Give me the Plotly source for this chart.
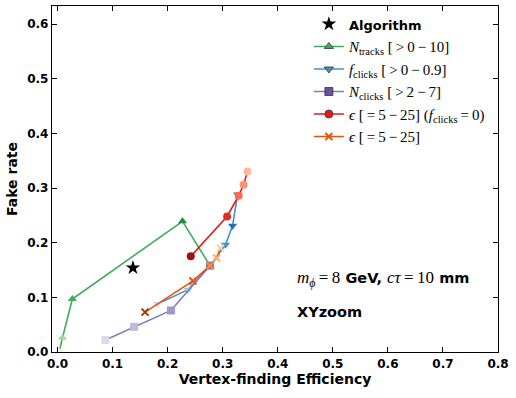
"""Fake rate vs vertex-finding efficiency, XYzoom"""

import plotly.graph_objects as go

# algorithm working point
algo_eff = [0.137]
algo_fake = [0.154]

# N_tracks [>0-10]
ntracks_eff = [0.003, 0.009, 0.027, 0.227, 0.277]
ntracks_fake = [0.000, 0.026, 0.097, 0.239, 0.158]

# f_clicks [>0-0.9]
fclicks_eff = [0.182, 0.237, 0.277, 0.305, 0.318, 0.327]
fclicks_fake = [0.088, 0.114, 0.158, 0.196, 0.231, 0.288]

# N_clicks [>2-7]
nclicks_eff = [0.087, 0.139, 0.206, 0.277]
nclicks_fake = [0.022, 0.046, 0.076, 0.158]

# epsilon [=5-25], f_clicks = 0
eps0_eff = [0.242, 0.308, 0.329, 0.338, 0.345]
eps0_fake = [0.175, 0.248, 0.286, 0.306, 0.330]

# epsilon [=5-25]
eps_eff = [0.159, 0.246, 0.277, 0.289, 0.296]
eps_fake = [0.073, 0.130, 0.158, 0.172, 0.190]

MATH = "font-family:'Liberation Serif';font-weight:normal"
SANS = "font-family:'DejaVu Sans';font-weight:bold;font-size:13px"
T = "\u2009"  # thin space, like mathtext around operators


def m(s, size=None):
    style = MATH + (f";font-size:{size}px" if size else "")
    return f"<span style=\"{style}\">{s}</span>"


series = [
    dict(name=m(f"<i>N</i><sub>tracks</sub> [{T}&gt;{T}0{T}−{T}10]"), x=ntracks_eff, y=ntracks_fake,
         line="#41ab5d", symbol="triangle-up", size=8,
         colors=["#f7fcf5", "#a1d99b", "#41ab5d", "#238b45", "#006d2c"], legend="#41ab5d"),
    dict(name=m(f"<i>f</i><sub>clicks</sub> [{T}&gt;{T}0{T}−{T}0.9]"), x=fclicks_eff, y=fclicks_fake,
         line="#4292c6", symbol="triangle-down", size=8,
         colors=["#c6dbef", "#9ecae1", "#6baed6", "#4292c6", "#2171b5", "#3182bd"], legend="#4292c6"),
    dict(name=m(f"<i>N</i><sub>clicks</sub> [{T}&gt;{T}2{T}−{T}7]"), x=nclicks_eff, y=nclicks_fake,
         line="#807dba", symbol="square", size=8,
         colors=["#dadaeb", "#bcbddc", "#9e9ac8", "#807dba"], legend="#6a51a3"),
    dict(name=m(f"<i>ϵ</i> [{T}={T}5{T}−{T}25] (<i>f</i><sub>clicks</sub>{T}={T}0)"), x=eps0_eff, y=eps0_fake,
         line="#e31a1c", symbol="circle", size=8,
         colors=["#a50f15", "#de2d26", "#fb6a4a", "#fc9272", "#fcbba1"], legend="#e31a1c"),
    dict(name=m(f"<i>ϵ</i> [{T}={T}5{T}−{T}25]"), x=eps_eff, y=eps_fake,
         line="#e6550d", symbol="x-thin", size=7,
         colors=["#a63603", "#e6550d", "#fd8d3c", "#fdae6b", "#fdd0a2"], legend="#e6550d"),
]

fig = go.Figure()

fig.add_trace(go.Scatter(
    x=algo_eff, y=algo_fake, mode="markers", showlegend=False,
    marker=dict(symbol="star", size=11, color="black"),
))
fig.add_trace(go.Scatter(
    x=[None], y=[None], mode="markers", name=f"<span style=\"{SANS}\">Algorithm</span>",
    marker=dict(symbol="star", size=11, color="black"),
))

for s in series:
    xthin = s["symbol"] == "x-thin"
    fig.add_trace(go.Scatter(
        x=s["x"], y=s["y"], mode="lines+markers", showlegend=False,
        line=dict(color=s["line"], width=1.6),
        marker=dict(symbol=s["symbol"], size=s["size"], color=s["colors"],
                    line=dict(width=2 if xthin else 0, color=s["colors"])),
    ))
    fig.add_trace(go.Scatter(
        x=[None], y=[None], mode="lines+markers", name=s["name"],
        line=dict(color=s["line"], width=1.6),
        marker=dict(symbol=s["symbol"], size=s["size"], color=s["legend"],
                    line=dict(width=2 if xthin else 0.8,
                              color=s["legend"] if xthin else "#333333")),
    ))

fig.add_annotation(
    x=0.431, y=0.134, xref="x", yref="y", xanchor="left", yanchor="middle", showarrow=False,
    text=m(f"<i>m</i><sub><i>ϕ</i></sub>{T}={T}8", 17) + " GeV, " + m(f"<i>cτ</i>{T}={T}10", 17) + " mm",
    font=dict(family="DejaVu Sans", size=14.5, color="black", weight="bold"),
)
fig.add_annotation(
    x=0.431, y=0.074, xref="x", yref="y", xanchor="left", yanchor="middle", showarrow=False,
    text="XYzoom",
    font=dict(family="DejaVu Sans", size=14.5, color="black", weight="bold"),
)

axis = dict(
    showgrid=False, zeroline=False, showline=True, linecolor="black", linewidth=1.3,
    mirror="allticks", ticks="inside", ticklen=5, tickwidth=1, tickcolor="black",
    tickfont=dict(family="DejaVu Sans", size=12, color="black", weight="bold"),
)

fig.update_layout(
    width=516, height=398,
    margin=dict(l=52, r=18, t=6, b=46),
    plot_bgcolor="white", paper_bgcolor="white",
    xaxis=dict(axis, range=[-0.01, 0.8], dtick=0.1, tickformat=".1f",
               title=dict(text="Vertex-finding Efficiency", standoff=4,
                          font=dict(family="DejaVu Sans", size=14, color="black", weight="bold"))),
    yaxis=dict(axis, range=[0, 0.633], dtick=0.1, tickformat=".1f",
               title=dict(text="Fake rate", standoff=6,
                          font=dict(family="DejaVu Sans", size=14, color="black", weight="bold"))),
    legend=dict(x=0.576, y=0.995, xanchor="left", yanchor="top", bgcolor="rgba(0,0,0,0)",
                font=dict(family="Liberation Serif", size=15, color="black"),
                itemwidth=30),
)

# the page's default body margin would shift the figure by 8px
fig.write_html("out.html", config={"displayModeBar": False},
               post_script="document.body.style.margin='0';")
